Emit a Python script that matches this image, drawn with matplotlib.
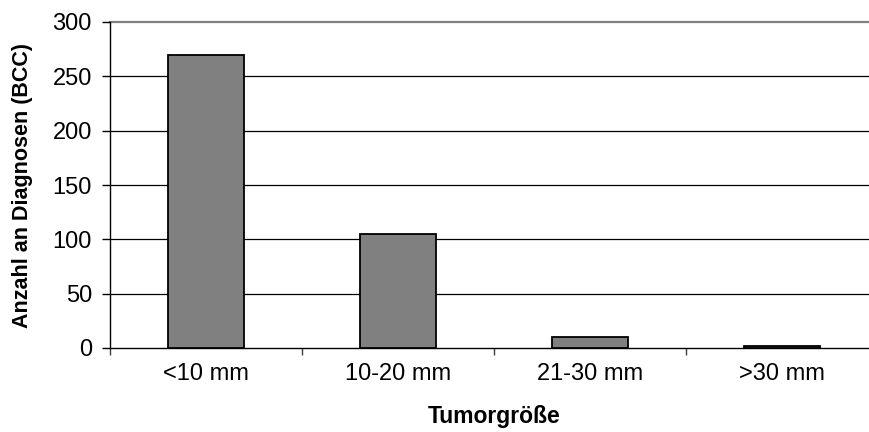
import matplotlib.pyplot as plt
import numpy as np

plt.rcParams['font.family'] = ['Liberation Sans', 'DejaVu Sans']

categories = ['<10 mm', '10-20 mm', '21-30 mm', '>30 mm']
counts = [270, 105, 10, 2]
yticks = [0, 50, 100, 150, 200, 250, 300]

fig = plt.figure(figsize=(8.69, 4.32), dpi=100)
ax = fig.add_axes([110 / 869, 84 / 432, 768 / 869, 326 / 432])

x = np.arange(len(categories))
ax.bar(x, counts, width=0.40, color='#808080', edgecolor='black', linewidth=1.3, zorder=3)

ax.set_ylim(0, 300)
ax.set_xlim(-0.5, 3.5)
ax.set_yticks(yticks)
ax.set_yticklabels([str(v) for v in yticks], fontsize=17)

# gridlines, top one lighter like the plot-area border
for v in yticks[1:-1]:
    ax.axhline(v, color='black', linewidth=0.9, zorder=1)
ax.axhline(300, color='#808080', linewidth=1.6, zorder=1, clip_on=False)

# ticks at the category boundaries, labels centred under the bars
ax.set_xticks(np.arange(-0.5, 4.0, 1.0))
ax.set_xticklabels([])
ax.set_xticks(x, minor=True)
ax.set_xticklabels(categories, minor=True, fontsize=17)
ax.tick_params(axis='x', which='minor', length=0, pad=11)
ax.tick_params(axis='x', which='major', length=5, width=1, color='#404040')
ax.tick_params(axis='y', length=6, width=1, pad=7)

for s in ['top', 'right']:
    ax.spines[s].set_visible(False)
ax.spines['left'].set_linewidth(1.0)
ax.spines['bottom'].set_linewidth(1.0)

ax.set_ylabel('Anzahl an Diagnosen (BCC)', fontsize=15.5, fontweight='bold', va='center')
ax.yaxis.set_label_coords((22 - 110) / 768, 0.5)
ax.set_xlabel('Tumorgröße', fontsize=16.5, fontweight='bold', va='center')
ax.xaxis.set_label_coords(0.5, (348 - 416) / 326)

fig.savefig('out.png', dpi=100)
